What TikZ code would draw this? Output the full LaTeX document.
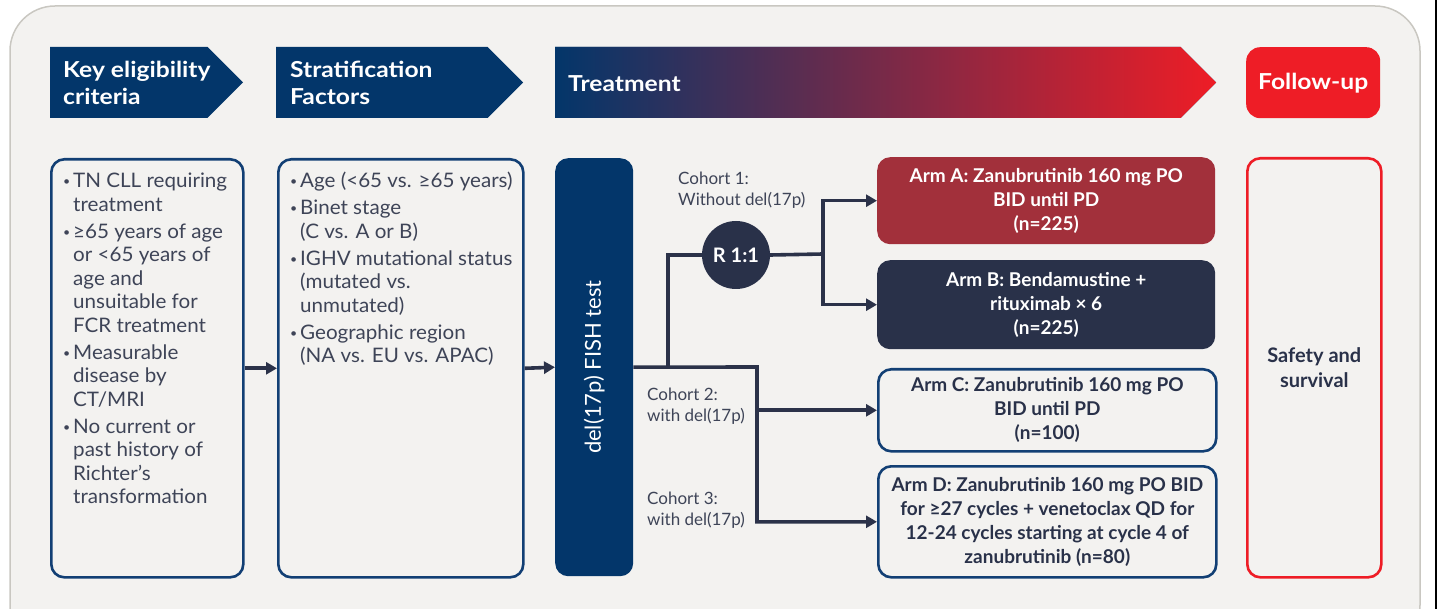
\documentclass[tikz,border=0pt]{standalone}
\usepackage{fontspec}
\setmainfont{Lato}
\newfontfamily\hdrfont{Lato}[FakeStretch=1.12]
\newfontfamily\bodyfont{Lato}[FakeStretch=1.03]
\usetikzlibrary{arrows.meta,shapes.symbols}
\definecolor{bg}{HTML}{F3F2F0}
\definecolor{bgline}{HTML}{C9C7C1}
\definecolor{navy}{HTML}{03366A}
\definecolor{boxline}{HTML}{123F74}
\definecolor{conn}{HTML}{2B3249}
\definecolor{armA}{HTML}{A2303B}
\definecolor{armB}{HTML}{293149}
\definecolor{fred}{HTML}{EE1D26}
\definecolor{txt}{HTML}{3E4457}
\newcommand{\bul}{\raisebox{0.1em}{\fontsize{12}{12}\selectfont\textbullet}}
\begin{document}
\begin{tikzpicture}[x=1pt,y=-1pt,
  hdr/.style={shape=signal, signal to=east, signal from=nowhere, signal pointer angle=90,
    minimum height=71pt, inner sep=0pt, outer sep=0pt, anchor=west, fill=navy},
  hdrtext/.style={anchor=west, inner sep=0pt, text=white, align=left,
    font=\hdrfont\fontsize{22}{27}\selectfont\bfseries},
  listbox/.style={draw=boxline, line width=2.6pt, rounded corners=13pt, anchor=north west,
    minimum width=192pt, minimum height=418pt, inner sep=0pt},
  listtext/.style={anchor=base west, inner sep=0pt, text=txt,
    font=\bodyfont\fontsize{20}{23.5}\selectfont},
  armbox/.style={rounded corners=13pt, anchor=north west, minimum width=338pt,
    inner sep=0pt, align=center, font=\fontsize{19}{24}\selectfont\bfseries},
  cohort/.style={anchor=north west, inner sep=0pt, align=left, text=txt,
    font=\fontsize{17}{21}\selectfont},
  link/.style={draw=conn, line width=3.6pt},
  arr/.style={link, -{Triangle[length=11pt,width=12pt]}}
]
\useasboundingbox (0,0) rectangle (1443,609);
\begin{scope}
\clip (0,0) rectangle (1443,609);
\path[fill=bg, draw=bgline, line width=1.5pt, rounded corners=45pt] (10,6) rectangle (1420,650);
\end{scope}
\draw[black, line width=1.5pt] (1436,0) -- (1436,609);

% headers
\node[hdr, minimum width=193pt] (h1) at (50,82.5) {};
\node[hdrtext] (h1t) at (63,83) {Key eligibility\\criteria};
\node[hdr, minimum width=247pt] (h2) at (276,82.5) {};
\node[hdrtext] (h2t) at (290,83) {Stratification\\Factors};
\node[hdr, minimum width=661pt, left color=navy, right color=fred] (h3) at (555,82.5) {};
\node[hdrtext] (h3t) at (568,84) {Treatment};
\node[fill=fred, rounded corners=14pt, minimum width=134pt, minimum height=71pt,
  anchor=north west, inner sep=0pt, text=white, font=\hdrfont\fontsize{22}{26}\selectfont\bfseries]
  (h4) at (1246,47) {Follow-up};

% eligibility box
\node[listbox] (elig) at (50,158) {};
\node[listtext] (eligt) at (63,188) {\renewcommand{\arraystretch}{1}%
\begin{tabular}[t]{@{}p{10pt}@{}l@{}}
\bul & TN CLL requiring\\
 & treatment\\[3.5pt]
\bul & ≥65 years of age\\
 & or <65 years of\\
 & age and\\
 & unsuitable for\\
 & FCR treatment\\[3.5pt]
\bul & Measurable\\
 & disease by\\
 & CT/MRI\\[3.5pt]
\bul & No current or\\
 & past history of\\
 & Richter’s\\
 & transformation
\end{tabular}};

% stratification box
\node[listbox, minimum width=245pt] (strat) at (277,158) {};
\node[listtext] (stratt) at (290,188) {\renewcommand{\arraystretch}{1}%
\begin{tabular}[t]{@{}p{10pt}@{}l@{}}
\bul & Age (<65 vs. ≥65 years)\\[3.5pt]
\bul & Binet stage\\
 & (C vs. A or B)\\[3.5pt]
\bul & IGHV mutational status\\
 & (mutated vs.\\
 & unmutated)\\[3.5pt]
\bul & Geographic region\\
 & (NA vs. EU vs. APAC)
\end{tabular}};

% FISH
\node[fill=navy, rounded corners=13pt, minimum width=78pt, minimum height=418pt,
  anchor=north west, inner sep=0pt] (fish) at (555,158) {};
\node[rotate=90, text=white, inner sep=0pt, font=\fontsize{22}{26}\selectfont]
  (fisht) at (fish.center) {del(17p) FISH test};

% randomisation
\node[circle, fill=armB, minimum size=68pt, inner sep=0pt, text=white,
  font=\fontsize{20}{24}\selectfont\bfseries] (rnd) at (736,255) {R 1:1};

% arms
\node[armbox, fill=armA, text=white, minimum height=87pt] (armA) at (877,157)
  {Arm A: Zanubrutinib 160 mg PO\\BID until PD\\(n=225)};
\node[armbox, fill=armB, text=white, minimum height=89pt] (armB) at (877,260)
  {Arm B: Bendamustine +\\rituximab × 6\\(n=225)};
\node[armbox, draw=boxline, line width=2.6pt, text=armB, minimum height=82pt] (armC) at (877,368)
  {Arm C: Zanubrutinib 160 mg PO\\BID until PD\\(n=100)};
\node[armbox, draw=boxline, line width=2.6pt, text=armB, minimum height=111pt] (armD) at (877,465)
  {Arm D: Zanubrutinib 160 mg PO BID\\for ≥27 cycles + venetoclax QD for\\12-24 cycles starting at cycle 4 of\\zanubrutinib (n=80)};

% follow-up box
\node[draw=fred, line width=2.6pt, rounded corners=13pt, minimum width=134pt,
  minimum height=419pt, anchor=north west, inner sep=0pt, align=center, text=armB,
  font=\fontsize{20}{25}\selectfont\bfseries] (fup) at (1246,157) {Safety and\\survival};

% cohort labels
\node[cohort] (c1) at (678,172) {Cohort 1:\\Without del(17p)};
\node[cohort] (c2) at (647,388) {Cohort 2:\\with del(17p)};
\node[cohort] (c3) at (647,492) {Cohort 3:\\with del(17p)};

% connectors
\coordinate (j1) at (757,367);
\coordinate (j2) at (668,367);
\coordinate (j3) at (823,254);
\draw[arr] (elig.east) -- (strat.west);
\draw[arr] (strat.east) -- (fish.west);
\draw[arr] (fish.east) -- (j1) |- (armD.west);
\draw[arr] (j1) |- (armC.west);
\draw[link] (j2) |- (rnd.west);
\draw[link] (rnd.east) -- (j3);
\draw[arr] (j3) |- (armA.west);
\draw[arr] (j3) |- (armB.west);
\end{tikzpicture}
\end{document}
